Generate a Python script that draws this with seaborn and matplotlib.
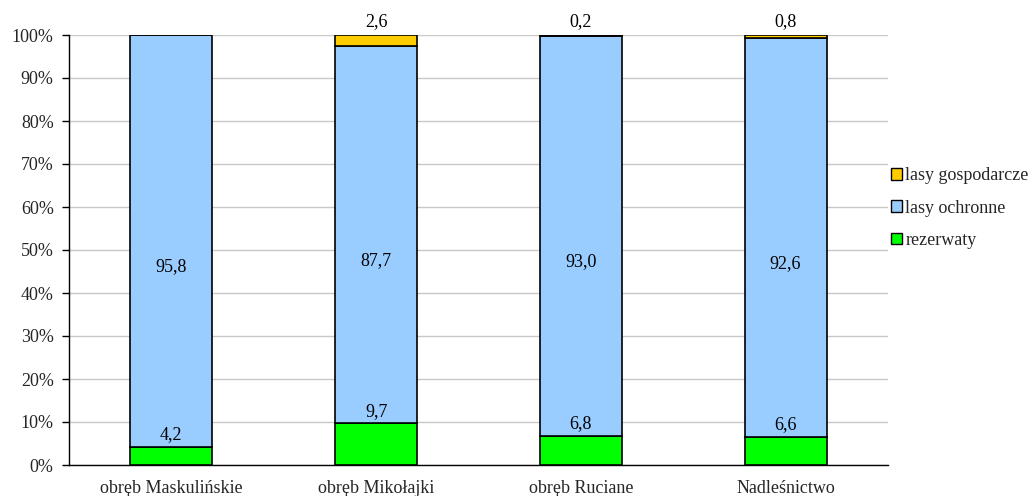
import matplotlib
matplotlib.use("Agg")
import matplotlib.pyplot as plt
import seaborn as sns
import pandas as pd
import numpy as np
from matplotlib.patches import Patch

categories = ["obręb Maskulińskie", "obręb Mikołajki", "obręb Ruciane", "Nadleśnictwo"]
rezerwaty = [4.2, 9.7, 6.8, 6.6]
lasy_ochronne = [95.8, 87.7, 93.0, 92.6]
lasy_gospodarcze = [0.0, 2.6, 0.2, 0.8]

series_names = ["rezerwaty", "lasy ochronne", "lasy gospodarcze"]
colors = ["#00FF00", "#99CCFF", "#FFCC00"]

sns.set_theme(style="white")
plt.rcParams['font.family'] = ['Liberation Serif', 'DejaVu Serif']
FS = 13
plt.rcParams['font.size'] = FS

fig = plt.figure(figsize=(10.33, 4.96), dpi=100)
ax = fig.add_axes([69/1033, 31/496, (888-69)/1033, (465-35)/496])

series = [rezerwaty, lasy_ochronne, lasy_gospodarcze]
bottom = np.zeros(len(categories))
for name, vals, col in zip(series_names, series, colors):
    df = pd.DataFrame({"cat": categories, "val": vals})
    sns.barplot(data=df, x="cat", y="val", color=col, width=0.4,
                bottom=bottom.copy(), edgecolor="black", linewidth=1.2,
                saturation=1, ax=ax, zorder=3)
    bottom = bottom + np.array(vals)

fmt = lambda v: f"{v:.1f}".replace(".", ",")
for i in range(len(categories)):
    g, b, y = rezerwaty[i], lasy_ochronne[i], lasy_gospodarcze[i]
    ax.text(i, g + 0.8, fmt(g), ha="center", va="bottom", fontsize=FS, color="black", zorder=5)
    ax.text(i, g + b / 2 - 6, fmt(b), ha="center", va="center", fontsize=FS, color="black", zorder=5)
    if y > 0:
        ax.text(i, 101.2, fmt(y), ha="center", va="bottom", fontsize=FS, color="black",
                zorder=5, clip_on=False)

ax.set_ylim(0, 100)
ax.set_xlim(-0.5, len(categories) - 0.5)
ax.set_yticks(np.arange(0, 101, 10))
ax.set_yticklabels([f"{t}%" for t in range(0, 101, 10)])
ax.yaxis.grid(True, color="#c8c8c8", linewidth=1, zorder=0)
ax.set_axisbelow(True)
ax.set_xlabel("")
ax.set_ylabel("")
for s in ["top", "right"]:
    ax.spines[s].set_visible(False)
for s in ["left", "bottom"]:
    ax.spines[s].set_color("black")
    ax.spines[s].set_linewidth(1)

ax.set_xticks(range(len(categories)))
ax.set_xticklabels(categories)
ax.set_xticks(np.arange(-0.5, len(categories), 1.0), minor=True)
ax.tick_params(axis="x", which="major", length=0, pad=11, labelsize=FS)
ax.tick_params(axis="x", which="minor", length=5, width=1, color="black", direction="out")
ax.tick_params(axis="y", which="major", length=5, width=1, color="black", direction="out",
               left=True, pad=6, labelsize=FS)

handles = [Patch(facecolor=colors[2], edgecolor="black", label=series_names[2]),
           Patch(facecolor=colors[1], edgecolor="black", label=series_names[1]),
           Patch(facecolor=colors[0], edgecolor="black", label=series_names[0])]
fig.legend(handles=handles, loc="center left", bbox_to_anchor=(891/1033, 1 - 208/496),
           frameon=False, fontsize=FS, handlelength=0.6, handleheight=0.6,
           handletextpad=0.2, labelspacing=0.85, borderaxespad=0, borderpad=0)

fig.savefig("out.png", dpi=100)
